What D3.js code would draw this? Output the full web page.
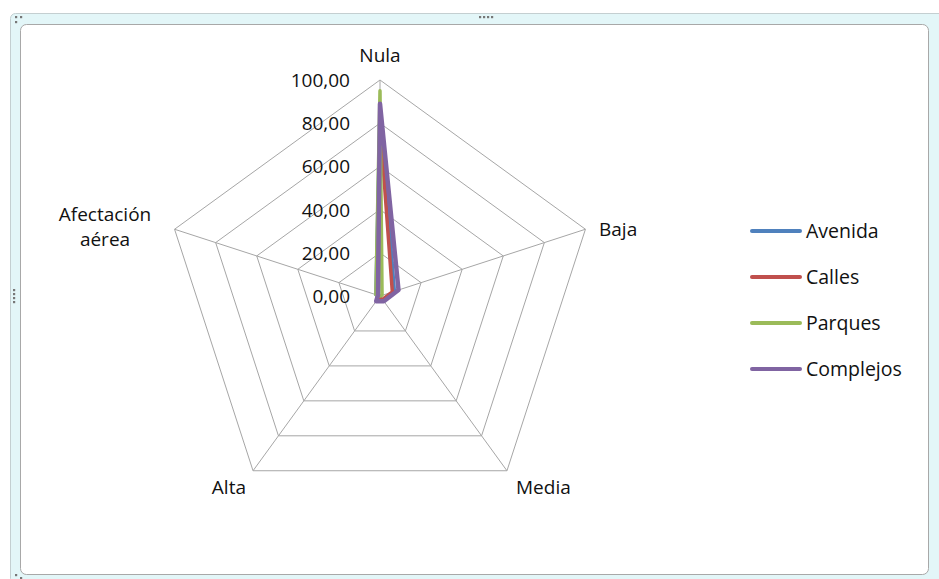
<!DOCTYPE html>
<html>
<head>
<meta charset="utf-8">
<script src="https://cdn.jsdelivr.net/npm/d3@7"></script>
<style>
  body { margin: 0; background: #fff; }
  text { font-family: "Open Sans", sans-serif; fill: #111; }
</style>
</head>
<body>
<svg id="viz"></svg>
<script>
	// the data
	var axes = ["Nula", "Baja", "Media", "Alta", "Afectación aérea"];
	var series = ["Avenida", "Calles", "Parques", "Complejos"];
	var avenida = [86, 7, 3, 1, 2];
	var calles = [80, 6, 2, 1, 1];
	var parques = [95, 1, 0, 0, 2];
	var complejos = [89, 9, 3, 3, 1];
	var ticks = [0, 20, 40, 60, 80, 100];
	var colors = ["#4f81bd", "#c0504d", "#9bbb59", "#8064a2"];
	var values = [avenida, calles, parques, complejos];

	// set up the svg
	var w = 939, h = 579;
	var viz = d3.select("#viz").attr("width", w).attr("height", h);

	// frame
	viz.append("rect").attr("x", 10.5).attr("y", 13.5).attr("width", 940).attr("height", 570)
		.attr("rx", 5).attr("fill", "#e3f6f8").attr("stroke", "#c4cfd1");
	viz.append("rect").attr("x", 20.5).attr("y", 24.5).attr("width", 908).attr("height", 550)
		.attr("rx", 6).attr("fill", "#fff").attr("stroke", "#a8a8a8");
	[[16, 17], [21, 17], [16, 22], [480, 17], [484, 17], [488, 17], [492, 17],
	 [14, 290], [14, 294], [14, 298], [14, 302], [16, 575], [21, 578]].forEach(function(p) {
		viz.append("rect").attr("x", p[0] - 1).attr("y", p[1] - 1).attr("width", 2.2).attr("height", 2.2).attr("fill", "#777");
	});

	var cx = 380, cy = 296, R = 216;
	var r = d3.scaleLinear().domain([0, 100]).range([0, R]);
	var angle = d3.scaleLinear().domain([0, axes.length]).range([0, 2 * Math.PI]);

	function pt(i, v) {
		var a = angle(i);
		return [cx + r(v) * Math.sin(a), cy - r(v) * Math.cos(a)];
	}

	var g = viz.append("g");

	// grid rings
	ticks.slice(1).forEach(function(t) {
		g.append("polygon")
			.attr("points", axes.map(function(d, i) { return pt(i, t).join(","); }).join(" "))
			.attr("fill", "none").attr("stroke", "#a6a6a6").attr("stroke-width", 1);
	});

	// spokes
	g.selectAll("line.spoke").data(axes).enter().append("line")
		.attr("x1", cx).attr("y1", cy)
		.attr("x2", function(d, i) { return pt(i, 100)[0]; })
		.attr("y2", function(d, i) { return pt(i, 100)[1]; })
		.attr("stroke", "#a6a6a6").attr("stroke-width", 1);

	// tick labels
	var fmt = function(v) { return d3.format(".2f")(v).replace(".", ","); };
	g.selectAll("text.tick").data(ticks).enter().append("text")
		.attr("x", 350).attr("y", function(d) { return cy - r(d) + 7; })
		.attr("text-anchor", "end").attr("font-size", 19)
		.text(fmt);

	// axis labels
	var lab = [
		{x: 380, y: 62, a: "middle"},
		{x: 599, y: 236, a: "start"},
		{x: 516, y: 494, a: "start"},
		{x: 246, y: 494, a: "end"},
		{x: 105, y: 221, a: "middle"}
	];
	axes.forEach(function(d, i) {
		var t = g.append("text").attr("x", lab[i].x).attr("y", lab[i].y)
			.attr("text-anchor", lab[i].a).attr("font-size", 19);
		if (i === 4) {
			t.append("tspan").attr("x", lab[i].x).text("Afectación");
			t.append("tspan").attr("x", lab[i].x).attr("dy", 25).text("aérea");
		} else {
			t.text(d);
		}
	});

	// series
	var line = d3.lineRadial()
		.angle(function(d, i) { return angle(i); })
		.radius(function(d) { return r(d); })
		.curve(d3.curveLinearClosed);

	g.selectAll("path.series").data(values).enter().append("path")
		.attr("transform", "translate(" + cx + "," + cy + ")")
		.attr("d", line)
		.attr("fill", "none")
		.attr("stroke", function(d, i) { return colors[i]; })
		.attr("stroke-width", function(d, i) { return i === 3 ? 4.5 : 3.5; })
		.attr("stroke-linejoin", "round");

	// legend
	var leg = viz.selectAll("g.leg").data(series).enter().append("g")
		.attr("transform", function(d, i) { return "translate(752," + (231 + i * 46) + ")"; });
	leg.append("line").attr("x1", 0).attr("x2", 48).attr("y1", 0).attr("y2", 0)
		.attr("stroke", function(d, i) { return colors[i]; })
		.attr("stroke-width", 4).attr("stroke-linecap", "round");
	leg.append("text").attr("x", 54).attr("y", 7).attr("font-size", 19.5).text(function(d) { return d; });
</script>
</body>
</html>
